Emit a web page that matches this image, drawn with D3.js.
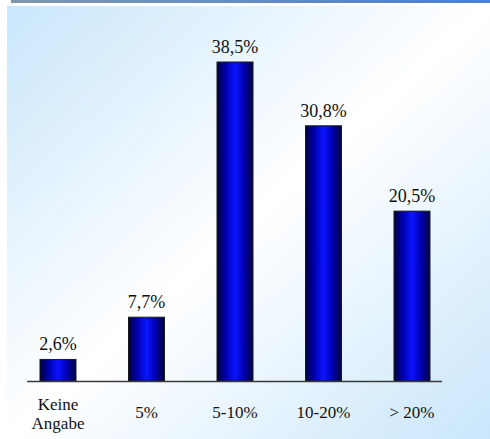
<!DOCTYPE html>
<html>
<head>
<meta charset="utf-8">
<script src="https://cdn.jsdelivr.net/npm/d3@7"></script>
<style>
  html, body { margin: 0; padding: 0; background: #ffffff; }
  svg { display: block; font-family: "Liberation Serif", Tinos, "Times New Roman", FreeSerif; }
</style>
</head>
<body>
<script>
// Categories and shares (percent)
const categories = ["Keine\nAngabe", "5%", "5-10%", "10-20%", "> 20%"];
const values = [2.6, 7.7, 38.5, 30.8, 20.5];
const valueLabels = ["2,6%", "7,7%", "38,5%", "30,8%", "20,5%"];

const W = 490, H = 439;
const baseline = 381;
const labelFont = '"Liberation Serif", Tinos, "Times New Roman", FreeSerif';

const svg = d3.select("body").append("svg")
  .attr("width", W).attr("height", H)
  .attr("font-family", labelFont);

const defs = svg.append("defs");

// Panel background: light blue corners fading to white in the middle
const bg = defs.append("linearGradient").attr("id", "bg")
  .attr("x1", "0").attr("y1", "0").attr("x2", "1").attr("y2", "1");
bg.append("stop").attr("offset", "0%").attr("stop-color", "#c9e6fb");
bg.append("stop").attr("offset", "50%").attr("stop-color", "#ffffff");
bg.append("stop").attr("offset", "100%").attr("stop-color", "#c9e6fb");

// Header rule
const rule = defs.append("linearGradient").attr("id", "rule")
  .attr("x1", "0").attr("y1", "0").attr("x2", "1").attr("y2", "0");
rule.append("stop").attr("offset", "0%").attr("stop-color", "#7f96ac");
rule.append("stop").attr("offset", "100%").attr("stop-color", "#4a80d6");

// Bar fill: dark edges, bright blue centre
const bar = defs.append("linearGradient").attr("id", "bar")
  .attr("x1", "0").attr("y1", "0").attr("x2", "1").attr("y2", "0");
bar.append("stop").attr("offset", "0%").attr("stop-color", "#000040");
bar.append("stop").attr("offset", "25%").attr("stop-color", "#0000b0");
bar.append("stop").attr("offset", "50%").attr("stop-color", "#0a14ff");
bar.append("stop").attr("offset", "75%").attr("stop-color", "#0000b0");
bar.append("stop").attr("offset", "100%").attr("stop-color", "#000040");

svg.append("rect").attr("x", 11).attr("y", 0).attr("width", W - 11).attr("height", 3)
  .attr("fill", "url(#rule)");
svg.append("rect").attr("x", 7).attr("y", 6).attr("width", W - 7).attr("height", H - 6)
  .attr("fill", "url(#bg)");

const x = d3.scalePoint().domain(d3.range(categories.length)).range([58, 412]);
const y = d3.scaleLinear().domain([0, 38.5]).range([baseline, 62]);
const barW = 36;

svg.selectAll("rect.bar").data(values).join("rect")
  .attr("class", "bar")
  .attr("x", (d, i) => x(i) - barW / 2)
  .attr("y", d => y(d))
  .attr("width", barW)
  .attr("height", d => baseline - y(d))
  .attr("fill", "url(#bar)")
  .attr("stroke", "#1a1a1a")
  .attr("stroke-width", 1);

// Baseline axis
svg.append("line")
  .attr("x1", 27).attr("x2", 442)
  .attr("y1", baseline + 0.5).attr("y2", baseline + 0.5)
  .attr("stroke", "#3a3a3a").attr("stroke-width", 1.5);

// Value labels
svg.selectAll("text.val").data(values).join("text")
  .attr("class", "val")
  .attr("x", (d, i) => x(i))
  .attr("y", d => y(d) - 9)
  .attr("text-anchor", "middle")
  .attr("font-family", labelFont)
  .attr("font-size", 18)
  .attr("fill", "#111")
  .text((d, i) => valueLabels[i]);

// Category labels, one text element per line
const catLines = categories.flatMap((c, i) => {
  const parts = c.split("\n");
  const y0 = parts.length > 1 ? 410 : 418;
  return parts.map((t, k) => ({ i, t, y: y0 + k * 19 }));
});
svg.selectAll("text.cat").data(catLines).join("text")
  .attr("class", "cat")
  .attr("x", d => x(d.i))
  .attr("y", d => d.y)
  .attr("text-anchor", "middle")
  .attr("font-family", labelFont)
  .attr("font-size", 17)
  .attr("fill", "#111")
  .text(d => d.t);
</script>
</body>
</html>
